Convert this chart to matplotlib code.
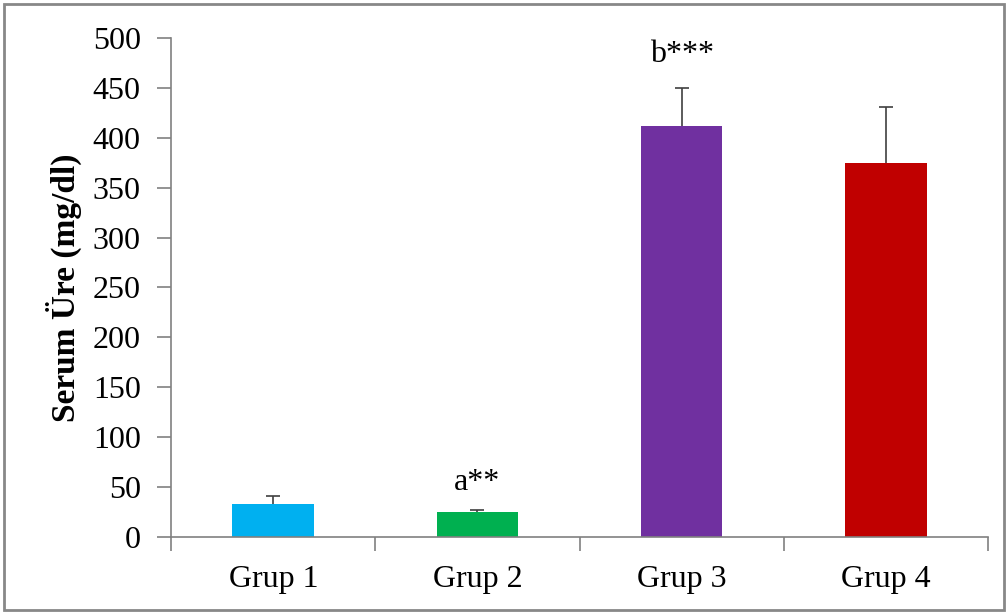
import matplotlib.pyplot as plt
from matplotlib.patches import Rectangle
import numpy as np

# Data
groups = ['Grup 1', 'Grup 2', 'Grup 3', 'Grup 4']
means = [33, 25, 412, 375]
errors = [8, 2, 38, 56]
colors = ['#00B0F0', '#00B050', '#7030A0', '#C00000']
marks = ['', 'a**', 'b***', '']
mark_y = [0, 47, 476, 0]

plt.rcParams['font.family'] = ['Liberation Serif', 'DejaVu Serif']

fig = plt.figure(figsize=(10.07, 6.12), dpi=100)
ax = fig.add_axes([0.170, 0.1225, 0.811, 0.8155])

x = np.arange(len(groups))
ax.bar(x, means, width=0.40, color=colors, zorder=2)
eb = ax.errorbar(x, means, yerr=[np.zeros(len(errors)), errors], fmt='none',
                 ecolor='#404040', elinewidth=1.2, capsize=5, capthick=1.2, zorder=3)
# only upper caps
eb[1][0].set_visible(False)

for xi, m, my in zip(x, marks, mark_y):
    if m:
        ax.text(xi, my, m, ha='center', va='baseline', fontsize=23)

ax.set_xlim(-0.5, 3.5)
ax.set_ylim(0, 500)
ax.set_yticks(np.arange(0, 501, 50))
ax.set_xticks(x)
ax.set_xticklabels(groups)
ax.set_xticks(np.arange(-0.5, 4.0, 1.0), minor=True)
ax.tick_params(axis='x', which='major', length=0, pad=20, labelsize=23)
ax.tick_params(axis='x', which='minor', length=10, color='#808080', width=1.2)
ax.tick_params(axis='y', length=10, color='#808080', width=1.2, labelsize=23, pad=12)

for s in ['top', 'right']:
    ax.spines[s].set_visible(False)
for s in ['left', 'bottom']:
    ax.spines[s].set_color('#808080')
    ax.spines[s].set_linewidth(1.2)

ax.set_ylabel('Serum Üre (mg/dl)', fontsize=24, fontweight='bold', labelpad=8)

# grey frame around the chart
fig.patches.append(Rectangle((4 / 1007, 2 / 612), 1000 / 1007, 606 / 612,
                             transform=fig.transFigure, fill=False,
                             edgecolor='#888888', linewidth=2))

fig.savefig('out.png', dpi=100)
